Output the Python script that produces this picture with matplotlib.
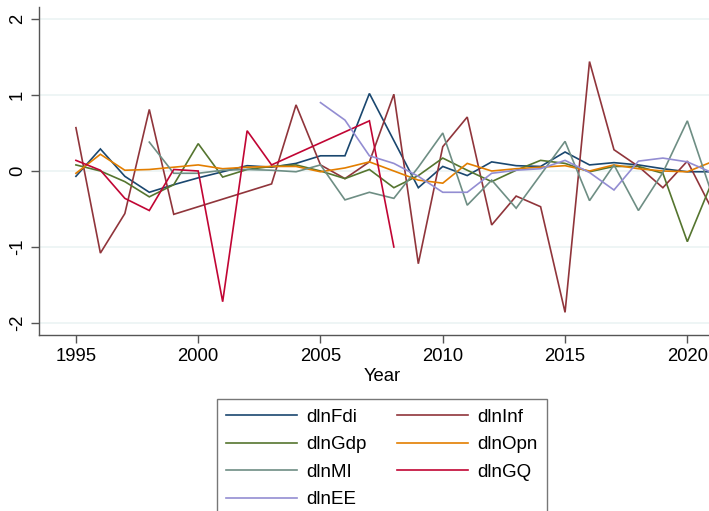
import numpy as np
import matplotlib
matplotlib.use("Agg")
import matplotlib.pyplot as plt

plt.rcParams['font.family'] = ['Liberation Sans', 'DejaVu Sans']

years = list(range(1995, 2022))
nan = np.nan

dlnFdi = [-0.07, 0.29, -0.07, -0.28, -0.18, -0.09, -0.01, 0.07, 0.05, 0.10, 0.20, 0.20, 1.02, 0.40,
          -0.22, 0.06, -0.06, 0.12, 0.07, 0.06, 0.25, 0.08, 0.11, 0.08, 0.03, -0.01, -0.01]
dlnInf = [0.57, -1.08, -0.56, 0.81, -0.57, nan, nan, nan, -0.17, 0.87, 0.08, -0.10, 0.12, 1.01,
          -1.22, 0.32, 0.71, -0.71, -0.33, -0.47, -1.86, 1.44, 0.28, 0.06, -0.22, 0.13, -0.50]
dlnGdp = [0.08, 0.00, -0.14, -0.34, -0.18, 0.36, -0.08, 0.02, 0.06, 0.08, 0.00, -0.10, 0.02, -0.22,
          -0.06, 0.17, 0.01, -0.14, 0.01, 0.14, 0.10, -0.01, 0.06, 0.06, -0.03, -0.93, -0.15]
dlnOpn = [-0.03, 0.22, 0.01, 0.02, 0.05, 0.08, 0.03, 0.05, 0.06, 0.06, -0.01, 0.04, 0.12, 0.00,
          -0.12, -0.16, 0.10, 0.00, 0.03, 0.05, 0.07, 0.00, 0.08, 0.03, 0.00, -0.01, 0.12]
dlnMI = [nan, nan, nan, 0.38, -0.03, -0.03, 0.01, 0.02, 0.01, -0.01, 0.08, -0.38, -0.28, -0.36,
         0.05, 0.50, -0.45, -0.12, -0.49, -0.05, 0.39, -0.39, 0.08, -0.52, -0.02, 0.66, -0.30]
dlnGQ = [0.14, 0.01, -0.36, -0.52, 0.02, 0.00, -1.72, 0.53, 0.08, nan, nan, nan, 0.66, -1.00,
         nan, nan, nan, nan, nan, nan, nan, nan, nan, nan, nan, nan, nan]
dlnEE = [nan] * 10 + [0.90, 0.67, 0.20, 0.10, -0.07, -0.28, -0.28, -0.03, 0.01, 0.03, 0.14,
                      -0.02, -0.25, 0.13, 0.17, 0.12, -0.02]

series = [
    ("dlnFdi", dlnFdi, "#1a476f"),
    ("dlnInf", dlnInf, "#90353b"),
    ("dlnGdp", dlnGdp, "#55752f"),
    ("dlnOpn", dlnOpn, "#e37e00"),
    ("dlnMI", dlnMI, "#6e8e84"),
    ("dlnGQ", dlnGQ, "#c10534"),
    ("dlnEE", dlnEE, "#938dd2"),
]

W, H = 709, 511
fig = plt.figure(figsize=(W / 100, H / 100), dpi=100)
ax = fig.add_axes([39 / W, 1 - 335 / H, (725 - 39) / W, (335 - 7) / H])

handles = {}
x_arr = np.array(years, dtype=float)
for name, vals, col in series:
    v = np.array(vals, dtype=float)
    m = ~np.isnan(v)
    ln, = ax.plot(x_arr[m], v[m], color=col, lw=1.2, label=name, solid_joinstyle='miter')
    handles[name] = ln

ax.set_xlim(1993.49, 2021.54)
ax.set_ylim(-2.158, 2.158)
ax.set_xticks([1995, 2000, 2005, 2010, 2015, 2020])
ax.set_yticks([-2, -1, 0, 1, 2])
ax.set_yticklabels(["-2", "-1", "0", "1", "2"], rotation=90, va='center')
ax.grid(axis='y', color='#eaf2f3', lw=1.1)
ax.set_axisbelow(True)
for s in ['top', 'right']:
    ax.spines[s].set_visible(False)
for s in ['left', 'bottom']:
    ax.spines[s].set_color('#555555')
    ax.spines[s].set_linewidth(1.0)
ax.tick_params(axis='both', length=5.5, width=1.0, color='#555555', labelsize=13.3, pad=4)
ax.set_xlabel("Year", fontsize=13.3, labelpad=2)

order = ["dlnFdi", "dlnGdp", "dlnMI", "dlnEE", "dlnInf", "dlnOpn", "dlnGQ"]
leg = fig.legend([handles[n] for n in order], order, ncol=2, loc='upper center',
                 bbox_to_anchor=(382 / W, 1 - 390 / H), fontsize=13.5, frameon=True,
                 fancybox=False, edgecolor='#555555', handlelength=3.8, handletextpad=0.5,
                 columnspacing=1.6, labelspacing=0.55, borderpad=0.5)
leg.get_frame().set_linewidth(1.0)

fig.savefig("out.png", dpi=100)
